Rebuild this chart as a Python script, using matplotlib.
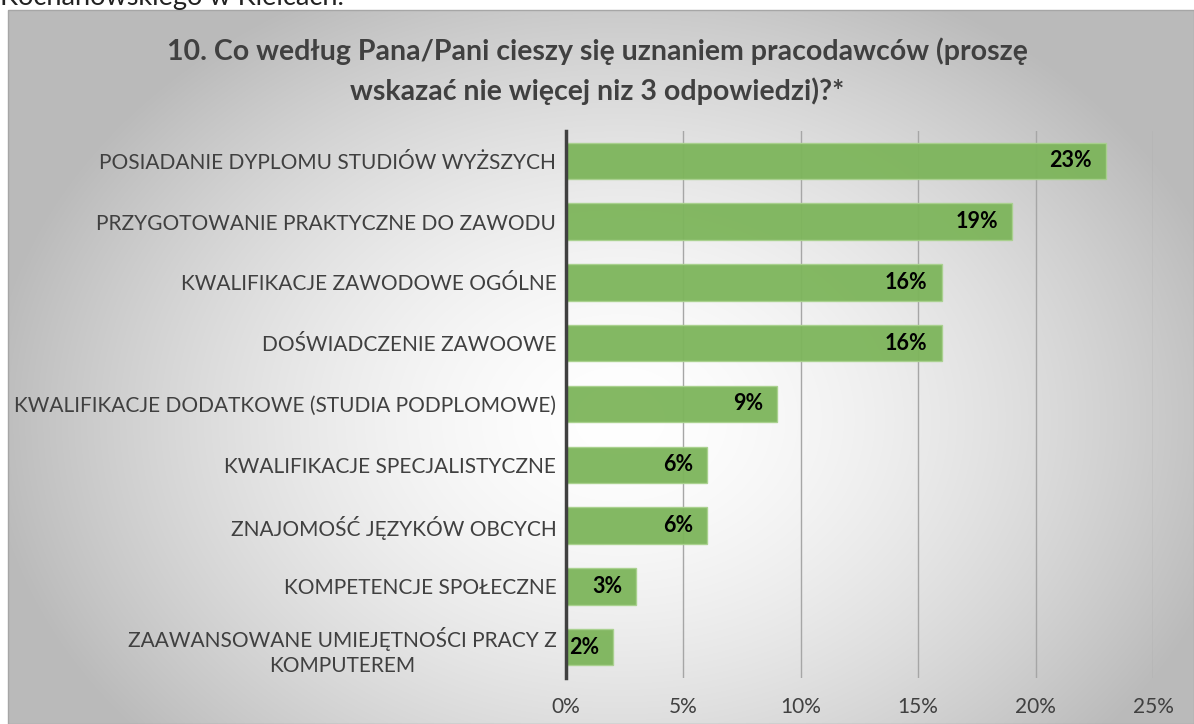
import numpy as np
import matplotlib
matplotlib.use("Agg")
import matplotlib.pyplot as plt
from matplotlib.patches import Rectangle

categories = [
    "POSIADANIE DYPLOMU STUDIÓW WYŻSZYCH",
    "PRZYGOTOWANIE PRAKTYCZNE DO ZAWODU",
    "KWALIFIKACJE ZAWODOWE OGÓLNE",
    "DOŚWIADCZENIE ZAWOOWE",
    "KWALIFIKACJE DODATKOWE (STUDIA PODPLOMOWE)",
    "KWALIFIKACJE SPECJALISTYCZNE",
    "ZNAJOMOŚĆ JĘZYKÓW OBCYCH",
    "KOMPETENCJE SPOŁECZNE",
    "ZAAWANSOWANE UMIEJĘTNOŚCI PRACY Z\nKOMPUTEREM",
]
values = [23, 19, 16, 16, 9, 6, 6, 3, 2]
xticks = [0, 5, 10, 15, 20, 25]
title = "10. Co według Pana/Pani cieszy się uznaniem pracodawców (proszę\nwskazać nie więcej niz 3 odpowiedzi)?*"

plt.rcParams['font.family'] = ['Lato', 'DejaVu Sans']

W, H = 1194, 724
fig = plt.figure(figsize=(W / 100, H / 100), dpi=100)

# background gradient for chart area
bg = fig.add_axes([0, 0, 1, 1], zorder=-10)
bg.set_xlim(0, W)
bg.set_ylim(H, 0)
bg.axis('off')
x0, y0 = 8, 10
xx, yy = np.meshgrid(np.linspace(x0, W, 400), np.linspace(y0, H, 250))
cx, cy = 620, 420
d = np.sqrt(((xx - cx) / 680) ** 2 + ((yy - cy) / 520) ** 2)
g = np.clip(1.0 - 0.30 * d ** 1.6, 0.73, 1.0)
img = np.dstack([g, g, g])
bg.imshow(img, extent=[x0, W, H, y0], aspect='auto', interpolation='bilinear')
bg.add_patch(Rectangle((x0, y0), W - x0, H - y0, fill=False, edgecolor='#A6A6A6', lw=1))
bg.text(0, 5, "Kochanowskiego w Kielcach.", fontsize=19.5, va='baseline', ha='left', color='#222222')

ax = fig.add_axes([566 / W, 1 - 677.5 / H, (1153 - 566) / W, (677.5 - 130.5) / H])
ax.patch.set_alpha(0)
y = np.arange(len(categories))
ax.barh(y, values, height=0.6, color='#7DB55B', edgecolor='#A9D18E', lw=1, alpha=0.95, zorder=3)
ax.set_ylim(len(categories) - 0.5, -0.5)
ax.set_xlim(0, 25)
ax.set_xticks(xticks)
ax.set_xticklabels([f"{t}%" for t in xticks], fontsize=15, color='#404040')
ax.set_yticks(y)
ax.set_yticklabels(categories, fontsize=15, color='#404040', linespacing=1.3, multialignment='center')
ax.tick_params(axis='both', length=0)
ax.tick_params(axis='x', pad=14)
ax.tick_params(axis='y', pad=7)
ax.grid(axis='x', color='#A6A6A6', lw=1, zorder=1)
for s in ['top', 'right', 'bottom']:
    ax.spines[s].set_visible(False)
ax.spines['left'].set_color('#404040')
ax.spines['left'].set_linewidth(2.5)
ax.spines['left'].set_zorder(5)
for yi, v in zip(y, values):
    ax.text(v - 0.6, yi, f"{v}%", ha='right', va='center', fontsize=15.5, fontweight='bold', color='black', zorder=6)

fig.text(597 / W, 1 - 71.5 / H, title, ha='center', va='center', fontsize=20.5, fontweight='bold',
         color='#404040', linespacing=1.55)

fig.savefig("out.png", dpi=100)
